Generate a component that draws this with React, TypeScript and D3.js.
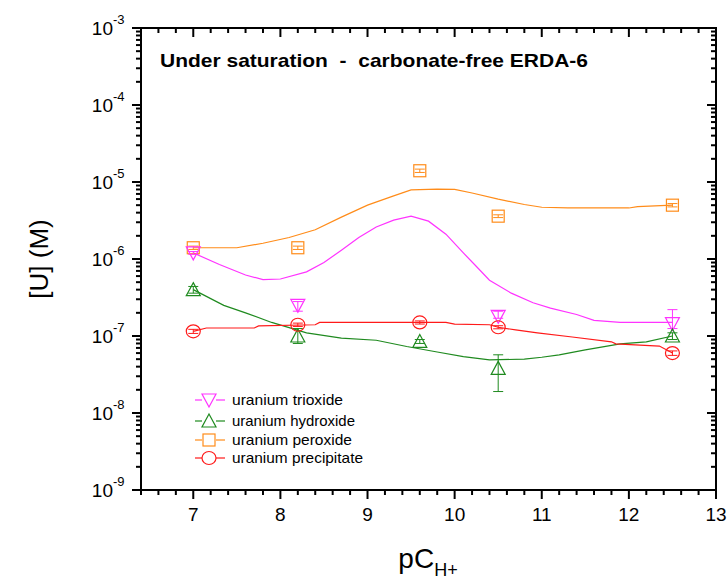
import React from "react";
import * as d3 from "d3";

// ---- Data ----
const measX = [7.0, 8.2, 9.6, 10.5, 12.5];

const trioxideMeas = [1.2e-6, 2.5e-7, NaN, 1.8e-7, 1.45e-7];
const trioxideLo = [1.15e-6, 2.1e-7, NaN, 1.7e-7, 1.25e-7];
const trioxideHi = [1.25e-6, 2.8e-7, NaN, 2.1e-7, 2.2e-7];

const hydroxideMeas = [4.0e-7, 1.0e-7, 8.5e-8, 3.8e-8, 1.0e-7];
const hydroxideLo = [3.6e-7, 8.0e-8, 8.0e-8, 1.9e-8, 9.0e-8];
const hydroxideHi = [4.4e-7, 1.25e-7, 9.0e-8, 5.7e-8, 1.1e-7];

const peroxideMeas = [1.4e-6, 1.4e-6, 1.4e-5, 3.6e-6, 5.0e-6];
const peroxideLo = [1.33e-6, 1.33e-6, 1.33e-5, 3.45e-6, 4.75e-6];
const peroxideHi = [1.47e-6, 1.47e-6, 1.47e-5, 3.75e-6, 5.25e-6];

const precipMeas = [1.15e-7, 1.4e-7, 1.5e-7, 1.3e-7, 6.0e-8];
const precipLo = [1.08e-7, 1.33e-7, 1.43e-7, 1.24e-7, 5.6e-8];
const precipHi = [1.22e-7, 1.47e-7, 1.57e-7, 1.36e-7, 6.4e-8];

const trioxideCurveX = [7.0, 7.3, 7.6, 7.8, 8.0, 8.3, 8.5, 8.7, 8.9, 9.1, 9.3, 9.5, 9.7, 9.9, 10.1, 10.25, 10.4, 10.65, 10.9, 11.1, 11.4, 11.6, 11.9, 12.5];
const trioxideCurveY = [1.2e-6, 8.5e-7, 6.2e-7, 5.4e-7, 5.5e-7, 6.8e-7, 9e-7, 1.3e-6, 1.9e-6, 2.6e-6, 3.2e-6, 3.6e-6, 3.1e-6, 2.1e-6, 1.2e-6, 8e-7, 5.3e-7, 3.6e-7, 2.7e-7, 2.3e-7, 1.9e-7, 1.6e-7, 1.5e-7, 1.5e-7];

const hydroxideCurveX = [7.0, 7.35, 7.6, 7.9, 8.3, 8.7, 9.1, 9.45, 9.8, 10.1, 10.4, 10.8, 11.0, 11.2, 11.5, 11.9, 12.2, 12.5];
const hydroxideCurveY = [4e-7, 2.5e-7, 2e-7, 1.5e-7, 1.1e-7, 9.4e-8, 8.8e-8, 7.3e-8, 6.2e-8, 5.4e-8, 4.9e-8, 5e-8, 5.3e-8, 5.7e-8, 6.6e-8, 7.9e-8, 8.4e-8, 1e-7];

const peroxideCurveX = [7.0, 7.5, 7.8, 8.1, 8.4, 8.7, 9.0, 9.3, 9.5, 9.8, 10.0, 10.2, 10.5, 10.8, 11.0, 11.3, 12.0, 12.1, 12.5];
const peroxideCurveY = [1.4e-6, 1.4e-6, 1.6e-6, 1.9e-6, 2.4e-6, 3.5e-6, 5e-6, 6.6e-6, 7.9e-6, 8.1e-6, 8e-6, 7.2e-6, 6e-6, 5.1e-6, 4.7e-6, 4.6e-6, 4.6e-6, 4.8e-6, 5e-6];

const precipCurveX = [7.0, 7.15, 7.7, 7.75, 8.4, 8.45, 9.9, 10.0, 10.4, 10.5, 10.7, 10.95, 11.35, 11.8, 11.85, 12.35, 12.5];
const precipCurveY = [1.15e-7, 1.27e-7, 1.27e-7, 1.35e-7, 1.4e-7, 1.5e-7, 1.5e-7, 1.43e-7, 1.4e-7, 1.3e-7, 1.2e-7, 1.1e-7, 9.7e-8, 8.4e-8, 7.9e-8, 7.4e-8, 6e-8];

const seriesNames = ["uranium trioxide", "uranium hydroxide", "uranium peroxide", "uranium precipitate"];
const xTicks = [7, 8, 9, 10, 11, 12, 13];
const yExponents = [-3, -4, -5, -6, -7, -8, -9];
const title = "Under saturation  -  carbonate-free ERDA-6";

// ---- Layout ----
const W = 728, H = 582;
const L = 141, R = 716, T = 28, B = 490;
const FONT = "Arial, 'Liberation Sans', Helvetica, sans-serif";
const legendTextLen = [111, 123, 120, 131];

const x = d3.scaleLinear().domain([6.4, 13]).range([L, R]);
const y = d3.scaleLog().domain([1e-9, 1e-3]).range([B, T]);

type Marker = "tdown" | "tup" | "square" | "circle";

function MarkerShape({ kind, cx, cy, color }: { kind: Marker; cx: number; cy: number; color: string }) {
  const s = 6;
  if (kind === "square") return <rect x={cx - s} y={cy - s} width={2 * s} height={2 * s} fill="none" stroke={color} strokeWidth={1.2} />;
  if (kind === "circle") return <ellipse cx={cx} cy={cy} rx={7} ry={6.5} fill="none" stroke={color} strokeWidth={1.2} />;
  if (kind === "tup") return <path d={`M${cx},${cy - 7}L${cx + 7},${cy + 6}L${cx - 7},${cy + 6}Z`} fill="none" stroke={color} strokeWidth={1.2} />;
  return <path d={`M${cx},${cy + 7}L${cx + 7},${cy - 6}L${cx - 7},${cy - 6}Z`} fill="none" stroke={color} strokeWidth={1.2} />;
}

const series = [
  { name: seriesNames[0], color: "#ff33ff", marker: "tdown" as Marker, cx: trioxideCurveX, cy: trioxideCurveY, m: trioxideMeas, lo: trioxideLo, hi: trioxideHi },
  { name: seriesNames[1], color: "#1f8a1f", marker: "tup" as Marker, cx: hydroxideCurveX, cy: hydroxideCurveY, m: hydroxideMeas, lo: hydroxideLo, hi: hydroxideHi },
  { name: seriesNames[2], color: "#ff8c1a", marker: "square" as Marker, cx: peroxideCurveX, cy: peroxideCurveY, m: peroxideMeas, lo: peroxideLo, hi: peroxideHi },
  { name: seriesNames[3], color: "#ff1a1a", marker: "circle" as Marker, cx: precipCurveX, cy: precipCurveY, m: precipMeas, lo: precipLo, hi: precipHi },
];

export default function App() {
  const line = d3.line<[number, number]>().x(d => x(d[0])).y(d => y(d[1])).curve(d3.curveLinear);

  const xMinor = d3.range(6.4, 13.0001, 0.2).map(v => +v.toFixed(1));
  const yMinor: number[] = [];
  for (let e = -9; e < -3; e++) for (let k = 2; k <= 9; k++) yMinor.push(k * Math.pow(10, e));

  const drawOrder = [2, 0, 1, 3];

  return (
    <svg width={W} height={H} style={{ position: "absolute", left: 0, top: 0, background: "#fff" }} fontFamily={FONT}>
      <rect x={0} y={0} width={W} height={H} fill="#fff" />
      {drawOrder.map(i => {
        const s = series[i];
        const pts = s.cx.map((v, j) => [v, s.cy[j]] as [number, number]);
        return <path key={"c" + i} d={line(pts) || ""} fill="none" stroke={s.color} strokeWidth={1.2} />;
      })}
      {drawOrder.map(i => {
        const s = series[i];
        return (
          <g key={"m" + i}>
            {measX.map((xv, j) => {
              if (isNaN(s.m[j])) return null;
              const px = x(xv);
              const yl = y(s.lo[j]), yh = y(s.hi[j]);
              return (
                <g key={j}>
                  <line x1={px} x2={px} y1={yl} y2={yh} stroke={s.color} strokeWidth={1} />
                  <line x1={px - 5} x2={px + 5} y1={yl} y2={yl} stroke={s.color} strokeWidth={1} />
                  <line x1={px - 5} x2={px + 5} y1={yh} y2={yh} stroke={s.color} strokeWidth={1} />
                  <MarkerShape kind={s.marker} cx={px} cy={y(s.m[j])} color={s.color} />
                </g>
              );
            })}
          </g>
        );
      })}

      <rect x={L} y={T} width={R - L} height={B - T} fill="none" stroke="#000" strokeWidth={2} />

      {xMinor.map(v => {
        const major = Math.abs(v - Math.round(v)) < 1e-6 && xTicks.includes(Math.round(v));
        const len = major ? 9 : 5;
        const px = x(v);
        return (
          <g key={"xt" + v}>
            <line x1={px} x2={px} y1={B} y2={B + len} stroke="#000" strokeWidth={2} />
            <line x1={px} x2={px} y1={T} y2={T + len} stroke="#000" strokeWidth={2} />
          </g>
        );
      })}
      {xTicks.map(v => (
        <text key={"xl" + v} x={x(v)} y={521} fontSize={19} textAnchor="middle" fill="#000">{v}</text>
      ))}

      {yExponents.map(e => {
        const py = y(Math.pow(10, e));
        return (
          <g key={"yt" + e}>
            <line x1={L - 9} x2={L} y1={py} y2={py} stroke="#000" strokeWidth={2} />
            <line x1={R - 9} x2={R} y1={py} y2={py} stroke="#000" strokeWidth={2} />
            <text x={113} y={py + 7} fontSize={19} textAnchor="end" fill="#000">10</text>
            <text x={113} y={py - 4} fontSize={13} textAnchor="start" fill="#000">{e}</text>
          </g>
        );
      })}
      {yMinor.map((v, k) => {
        const py = y(v);
        return (
          <g key={"ym" + k}>
            <line x1={L - 5} x2={L} y1={py} y2={py} stroke="#000" strokeWidth={2} />
            <line x1={R - 5} x2={R} y1={py} y2={py} stroke="#000" strokeWidth={2} />
          </g>
        );
      })}

      <text x={160} y={67} fontSize={19} fontWeight="bold" fill="#000" textLength={428} lengthAdjust="spacingAndGlyphs" style={{ whiteSpace: "pre" }}>{title}</text>

      {series.map((s, i) => {
        const ly = [400, 421, 440, 458][i];
        return (
          <g key={"lg" + i}>
            <line x1={195} x2={225} y1={ly} y2={ly} stroke={s.color} strokeWidth={1.2} />
            <rect x={202} y={ly - 7} width={14} height={14} fill="#fff" />
            <MarkerShape kind={s.marker} cx={209} cy={ly} color={s.color} />
            <text x={232} y={ly + 5} fontSize={15} fill="#000" textLength={legendTextLen[i]} lengthAdjust="spacingAndGlyphs">{s.name}</text>
          </g>
        );
      })}

      <text transform={`translate(48,${(T + B) / 2}) rotate(-90)`} fontSize={26} textAnchor="middle" fill="#000">[U] (M)</text>
      <text x={428} y={568} fontSize={28} textAnchor="middle" fill="#000">
        pC<tspan fontSize={18} dy={8}>H+</tspan>
      </text>
    </svg>
  );
}
